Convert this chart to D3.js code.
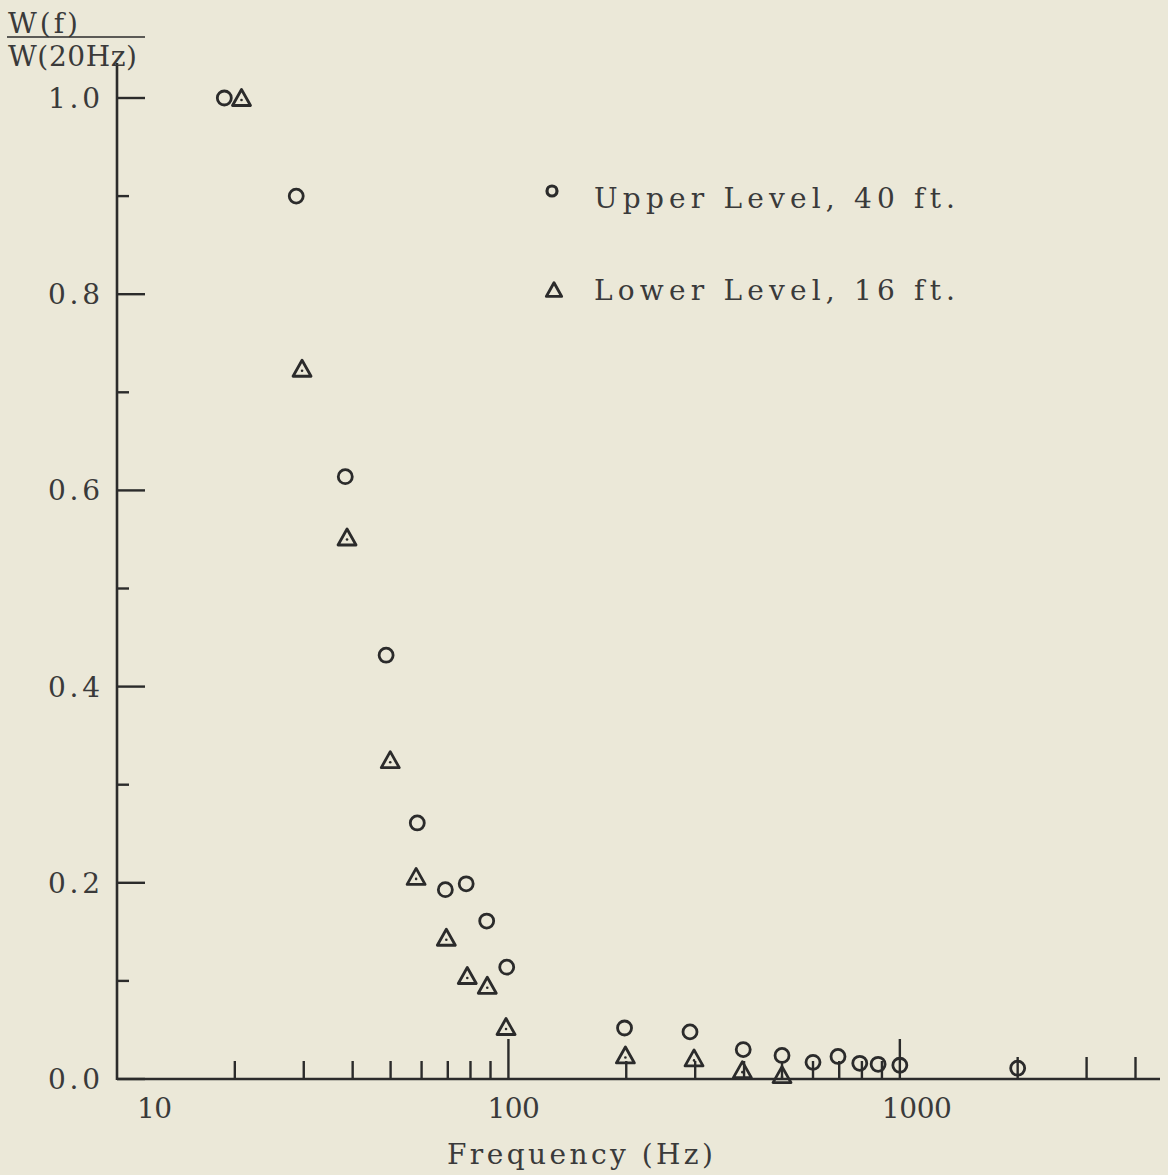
<!DOCTYPE html>
<html>
<head>
<meta charset="utf-8">
<script src="https://cdn.jsdelivr.net/npm/d3@7"></script>
<style>
  html, body { margin: 0; padding: 0; background: #ebe8d8; }
  svg { display: block; }
  text { font-family: "DejaVu Serif", "Liberation Serif", serif; fill: #3a3a3a; }
</style>
</head>
<body>
<svg id="chart" width="1168" height="1175"></svg>
<script>
// Normalised wind-noise spectrum W(f)/W(20 Hz) at two microphone heights.
const upperFreq  = [18.8, 28.7, 38.3, 48.7, 58.5, 69, 78, 88, 99, 198, 291, 398, 500, 600, 695, 790, 880, 1000, 2000];
const upperValue = [1.0, 0.900, 0.614, 0.432, 0.261, 0.193, 0.199, 0.161, 0.114, 0.052, 0.048, 0.030, 0.024, 0.017, 0.023, 0.016, 0.015, 0.014, 0.011];

const lowerFreq  = [20.8, 29.7, 38.7, 49.9, 58.1, 69.4, 78.5, 88.3, 98.6, 199, 298, 396, 500];
const lowerValue = [1.0, 0.724, 0.552, 0.325, 0.206, 0.144, 0.105, 0.095, 0.053, 0.024, 0.021, 0.009, 0.004];

const xTickValues = [20, 30, 40, 50, 60, 70, 80, 90, 100, 200, 300, 400, 500, 600, 700, 800, 900, 1000, 2000, 3000, 4000];
const xMajorTicks = [100, 1000];
const xTickLabels = ["10", "100", "1000"];
const yTickValues = [0, 0.1, 0.2, 0.3, 0.4, 0.5, 0.6, 0.7, 0.8, 0.9, 1.0];
const yTickLabels = ["0.0", "0.2", "0.4", "0.6", "0.8", "1.0"];

const legendEntries = ["Upper Level, 40 ft.", "Lower Level, 16 ft."];

const ink = "#2b2b2b";
const svg = d3.select("#chart");

const x = d3.scaleLog().domain([10, 4620]).range([117, 1160]);
const y = d3.scaleLinear().domain([0, 1]).range([1079, 98]);

// Typewriter-style text: fixed pitch is approximated by stretching the spacing
function typed(sel, width) {
  return sel.attr("textLength", width).attr("lengthAdjust", "spacing");
}

// Axis lines
svg.append("line")
  .attr("x1", x(10)).attr("x2", x(10))
  .attr("y1", 63).attr("y2", y(0) + 1)
  .attr("stroke", ink).attr("stroke-width", 2.6);
svg.append("line")
  .attr("x1", x(10)).attr("x2", x(4620))
  .attr("y1", y(0)).attr("y2", y(0))
  .attr("stroke", ink).attr("stroke-width", 2.6);

// X ticks point up from the axis; decades are taller
svg.append("g").selectAll("line").data(xTickValues).join("line")
  .attr("x1", d => x(d)).attr("x2", d => x(d))
  .attr("y1", y(0))
  .attr("y2", d => y(0) - (xMajorTicks.includes(d) ? 40 : (d > 1000 ? 22 : 18)))
  .attr("stroke", ink).attr("stroke-width", 2.4);

// X tick labels sit a little right of their decade
const xLabelStart = { "10": 20, "100": -21, "1000": -18 };
typed(svg.append("g").selectAll("text").data(xTickLabels).join("text")
  .attr("x", d => x(+d) + xLabelStart[d])
  .attr("y", 1118)
  .attr("font-size", 28)
  .text(d => d), d => d.length * 17.5);

// Y ticks point right from the axis; labelled ones are longer
svg.append("g").selectAll("line").data(yTickValues).join("line")
  .attr("x1", x(10)).attr("x2", (d, i) => x(10) + (i % 2 === 0 ? 28 : 12))
  .attr("y1", d => y(d)).attr("y2", d => y(d))
  .attr("stroke", ink).attr("stroke-width", 2.4);

typed(svg.append("g").selectAll("text").data(yTickLabels).join("text")
  .attr("x", 48)
  .attr("y", d => y(+d))
  .attr("dy", "0.36em")
  .attr("font-size", 28)
  .text(d => d), 52);

// Axis titles
typed(svg.append("text")
  .attr("x", 447).attr("y", 1164)
  .attr("font-size", 28)
  .text("Frequency (Hz)"), 266);

typed(svg.append("text").attr("x", 8).attr("y", 33).attr("font-size", 28).text("W(f)"), 70);
svg.append("line")
  .attr("x1", 7).attr("x2", 145).attr("y1", 37).attr("y2", 37)
  .attr("stroke", ink).attr("stroke-width", 1.6);
typed(svg.append("text").attr("x", 8).attr("y", 66).attr("font-size", 28).text("W(20Hz)"), 129);

// Marker shapes
const trianglePath = "M0,-8.5 L9,7.5 L-9,7.5 Z";

function drawCircles(g, freqs, vals, r) {
  g.selectAll("circle").data(freqs.map((f, i) => [f, vals[i]])).join("circle")
    .attr("cx", d => x(d[0])).attr("cy", d => y(d[1]))
    .attr("r", r)
    .attr("fill", "none").attr("stroke", ink).attr("stroke-width", 2.8);
}

function drawTriangles(g, freqs, vals) {
  const pts = freqs.map((f, i) => [f, vals[i]]);
  g.selectAll("path").data(pts).join("path")
    .attr("d", trianglePath)
    .attr("transform", d => `translate(${x(d[0])},${y(d[1])})`)
    .attr("fill", "none").attr("stroke", ink).attr("stroke-width", 2.8)
    .attr("stroke-linejoin", "round");
  g.selectAll("circle").data(pts).join("circle")
    .attr("cx", d => x(d[0])).attr("cy", d => y(d[1]) + 2)
    .attr("r", 1.3).attr("fill", ink);
}

drawCircles(svg.append("g"), upperFreq, upperValue, 7);
drawTriangles(svg.append("g"), lowerFreq, lowerValue);

// Legend
const legend = svg.append("g");
legend.append("circle")
  .attr("cx", 552).attr("cy", 191).attr("r", 5)
  .attr("fill", "none").attr("stroke", ink).attr("stroke-width", 3.2);
legend.append("path")
  .attr("d", trianglePath)
  .attr("transform", "translate(554,290) scale(0.85)")
  .attr("fill", "none").attr("stroke", ink).attr("stroke-width", 3.4)
  .attr("stroke-linejoin", "round");
typed(legend.selectAll("text").data(legendEntries).join("text")
  .attr("x", 594)
  .attr("y", (d, i) => 208 + i * 92)
  .attr("font-size", 28)
  .text(d => d), 361);
</script>
</body>
</html>
